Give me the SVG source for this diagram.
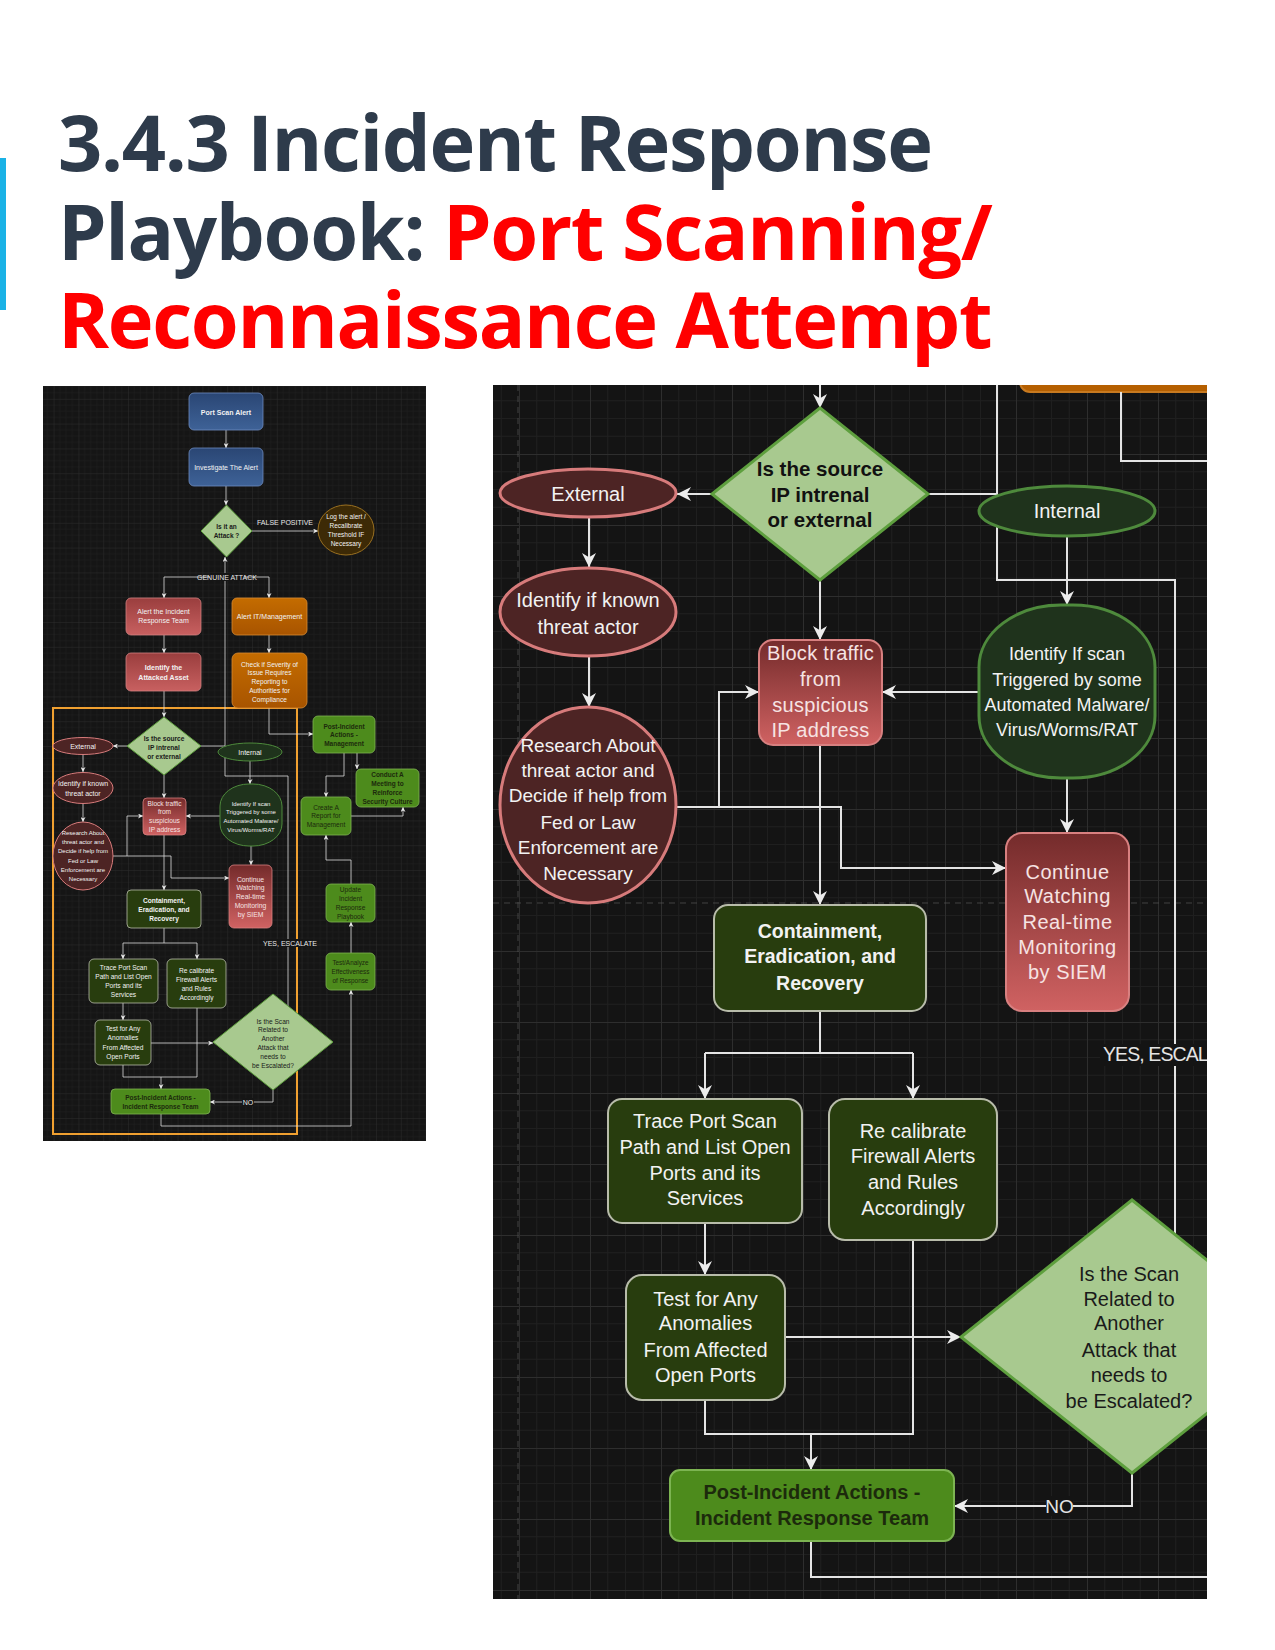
<svg xmlns="http://www.w3.org/2000/svg" width="1275" height="1650" viewBox="0 0 1275 1650">
<defs>
<style>
.ttl{font-family:"Open Sans","Noto Sans",sans-serif;font-weight:700;font-size:77.5px;letter-spacing:-1.35px}
.dk{fill:#2e3b4b}
.rd{fill:#ff0000}
.c{stroke:#e4e4e4;fill:none;stroke-width:2}
.cs{stroke:#dcdcdc;fill:none;stroke-width:0.8}
.t{font-family:"Liberation Sans",Arial,sans-serif;text-anchor:middle}
.b{font-weight:700}
.R{font-size:20px}
.S{font-size:7px}
.wt{fill:#f2f2f2}
.pk{fill:#f6e3e3}
.dkt{fill:#1c2a0c}
.dia{fill:#a8c98f;stroke:#5e9f3e}
.ext{fill:#4d2424;stroke:#d77b7b}
.int{fill:#1f331c;stroke:#4e8a3c}
.cer{fill:#283d0e;stroke:#b8bcaa}
.pst{fill:#4d8b1c;stroke:#7db452}
.red{fill:url(#gRed);stroke:#d88080}
.red2{fill:url(#gRed2);stroke:#d08080}
.blu{fill:url(#gBlue);stroke:#6d8cc0}
.org{fill:url(#gOrg);stroke:#d88a30}
.log{fill:#3d2a06;stroke:#9a7020}
.lbl{fill:#e8e8e8}
</style>
<linearGradient id="gRed" x1="0" y1="0" x2="0" y2="1"><stop offset="0" stop-color="#742b2b"/><stop offset="1" stop-color="#d06262"/></linearGradient>
<linearGradient id="gRed2" x1="0" y1="0" x2="0" y2="1"><stop offset="0" stop-color="#9a3e3e"/><stop offset="1" stop-color="#c86060"/></linearGradient>
<linearGradient id="gBlue" x1="0" y1="0" x2="0" y2="1"><stop offset="0" stop-color="#2a4674"/><stop offset="1" stop-color="#3e6297"/></linearGradient>
<linearGradient id="gOrg" x1="0" y1="0" x2="0" y2="1"><stop offset="0" stop-color="#c46c00"/><stop offset="1" stop-color="#a85400"/></linearGradient>
<pattern id="gridR" x="22" y="28" width="71" height="71" patternUnits="userSpaceOnUse">
<path d="M17.75 0V71M35.5 0V71M53.25 0V71M0 17.75H71M0 35.5H71M0 53.25H71" stroke="#1f1f1f" stroke-width="1" fill="none"/>
<path d="M0.5 0V71M0 0.5H71" stroke="#2e2e2e" stroke-width="1" fill="none"/>
</pattern>
<pattern id="gridL" x="4" y="2" width="24.8" height="24.8" patternUnits="userSpaceOnUse">
<path d="M6.2 0V24.8M12.4 0V24.8M18.6 0V24.8M0 6.2H24.8M0 12.4H24.8M0 18.6H24.8" stroke="#1e1e1e" stroke-width="0.6" fill="none"/>
<path d="M0.3 0V24.8M0 0.3H24.8" stroke="#2b2b2b" stroke-width="0.7" fill="none"/>
</pattern>
<marker id="aR" viewBox="0 0 10 10" refX="10" refY="5" markerWidth="14" markerHeight="14" markerUnits="userSpaceOnUse" orient="auto"><path d="M0,0 L10,5 L0,10 L3,5 Z" fill="#ececec"/></marker>
<marker id="aL" viewBox="0 0 10 10" refX="10" refY="5" markerWidth="5" markerHeight="5" markerUnits="userSpaceOnUse" orient="auto"><path d="M0,0 L10,5 L0,10 L3,5 Z" fill="#ececec"/></marker>
<clipPath id="clipR"><rect x="493" y="385" width="714" height="1214"/></clipPath>
<clipPath id="clipL"><rect x="43" y="386" width="383" height="755"/></clipPath>
</defs>
<rect width="1275" height="1650" fill="#ffffff"/>

<g id="title">
<rect x="0" y="158" width="6" height="152" fill="#1ab2e6"/>
<text class="ttl dk" x="58" y="171">3.4.3 Incident Response</text>
<text class="ttl" x="58" y="260"><tspan class="dk">Playbook: </tspan><tspan class="rd">Port Scanning/</tspan></text>
<text class="ttl rd" x="58" y="348">Reconnaissance Attempt</text>
</g>

<!-- ================= LEFT OVERVIEW PANEL ================= -->
<g id="left-panel" clip-path="url(#clipL)">
<rect x="43" y="386" width="383" height="755" fill="#151515"/>
<rect x="43" y="386" width="383" height="755" fill="url(#gridL)"/>
<rect x="53" y="708" width="244" height="426" fill="none" stroke="#f0a030" stroke-width="2"/>

<g id="l-connectors">
<path class="cs" d="M226 430V448" marker-end="url(#aL)"/>
<path class="cs" d="M226 486V505" marker-end="url(#aL)"/>
<path class="cs" d="M252 531H318" marker-end="url(#aL)"/>
<path class="cs" d="M164 577H269"/>
<path class="cs" d="M164 577V598" marker-end="url(#aL)"/>
<path class="cs" d="M269 577V598" marker-end="url(#aL)"/>
<path class="cs" d="M164 635V653" marker-end="url(#aL)"/>
<path class="cs" d="M269 635V653" marker-end="url(#aL)"/>
<path class="cs" d="M164 691V717" marker-end="url(#aL)"/>
<path class="cs" d="M269 708V734H313" marker-end="url(#aL)"/>
<path class="cs" d="M288 1006V776H225V557" marker-end="url(#aL)"/>
<path class="cs" d="M127 746H113" marker-end="url(#aL)"/>
<path class="cs" d="M201 746H225"/>
<path class="cs" d="M83 754V772" marker-end="url(#aL)"/>
<path class="cs" d="M83 803V822" marker-end="url(#aL)"/>
<path class="cs" d="M164 775V798" marker-end="url(#aL)"/>
<path class="cs" d="M250 761V784" marker-end="url(#aL)"/>
<path class="cs" d="M220 816H186" marker-end="url(#aL)"/>
<path class="cs" d="M113 856H127V816H143" marker-end="url(#aL)"/>
<path class="cs" d="M127 856H171V878H229" marker-end="url(#aL)"/>
<path class="cs" d="M251 846V865" marker-end="url(#aL)"/>
<path class="cs" d="M164 835V890" marker-end="url(#aL)"/>
<path class="cs" d="M344 753V776H326V797" marker-end="url(#aL)"/>
<path class="cs" d="M357 753V769" marker-end="url(#aL)"/>
<path class="cs" d="M351 816H403V807" marker-end="url(#aL)"/>
<path class="cs" d="M351 884V860H326V835" marker-end="url(#aL)"/>
<path class="cs" d="M351 953V922" marker-end="url(#aL)"/>
<path class="cs" d="M164 928V943"/>
<path class="cs" d="M123 943H197"/>
<path class="cs" d="M123 943V959" marker-end="url(#aL)"/>
<path class="cs" d="M197 943V959" marker-end="url(#aL)"/>
<path class="cs" d="M123 1003V1020" marker-end="url(#aL)"/>
<path class="cs" d="M151 1043H213" marker-end="url(#aL)"/>
<path class="cs" d="M197 1008V1077H123V1065"/>
<path class="cs" d="M161 1077V1089" marker-end="url(#aL)"/>
<path class="cs" d="M273 1090V1102H210" marker-end="url(#aL)"/>
<path class="cs" d="M161 1114V1126H351V990" marker-end="url(#aL)"/>
<rect x="210" y="573" width="34" height="8" fill="#151515"/>
<text class="t S lbl" x="227" y="579.5">GENUINE ATTACK</text>
<text class="t S lbl" x="285" y="524.5">FALSE POSITIVE</text>
<rect x="267" y="939" width="46" height="8" fill="#151515"/>
<text class="t S lbl" x="290" y="945.5">YES, ESCALATE</text>
<rect x="242" y="1098" width="12" height="8" fill="#151515"/>
<text class="t S lbl" x="248" y="1104.5">NO</text>
</g>

<g id="l-port-scan-alert"><rect class="blu" x="189" y="393" width="74" height="37" rx="5" stroke-width="0.8"/><text class="t S b wt" x="226" y="414.5">Port Scan Alert</text></g>
<g id="l-investigate"><rect class="blu" x="189" y="448" width="74" height="38" rx="5" stroke-width="0.8"/><text class="t S wt" x="226" y="469.5">Investigate The Alert</text></g>
<g id="l-is-attack"><polygon class="dia" points="226.5,505 252,531 226.5,557 201,531" stroke-width="1"/><text class="t b" font-size="6.5" fill="#1a1a1a" x="226.5" y="529"><tspan x="226.5">Is it an</tspan><tspan x="226.5" dy="9">Attack ?</tspan></text></g>
<g id="l-log"><ellipse class="log" cx="346" cy="530" rx="28" ry="25" stroke-width="1"/><text class="t wt" font-size="6.5" x="346" y="519"><tspan x="346">Log the alert /</tspan><tspan x="346" dy="9">Recalibrate</tspan><tspan x="346" dy="9">Threshold IF</tspan><tspan x="346" dy="9">Necessary</tspan></text></g>
<g id="l-alert-ir"><rect class="red2" x="126" y="598" width="75" height="37" rx="5" stroke-width="0.8"/><text class="t S wt" x="163.5" y="614"><tspan x="163.5">Alert the Incident</tspan><tspan x="163.5" dy="9">Response Team</tspan></text></g>
<g id="l-identify-asset"><rect class="red2" x="126" y="653" width="75" height="38" rx="5" stroke-width="0.8"/><text class="t S b wt" x="163.5" y="670"><tspan x="163.5">Identify the</tspan><tspan x="163.5" dy="9.5">Attacked Asset</tspan></text></g>
<g id="l-alert-it"><rect class="org" x="232" y="598" width="75" height="37" rx="5" stroke-width="0.8"/><text class="t S wt" x="269.5" y="618.5">Alert IT/Management</text></g>
<g id="l-check-severity"><rect class="org" x="232" y="653" width="75" height="55" rx="6" stroke-width="0.8"/><text class="t" font-size="6.6" fill="#f2f2f2" x="269.5" y="666.5"><tspan x="269.5">Check if Severity of</tspan><tspan x="269.5" dy="8.8">Issue Requires</tspan><tspan x="269.5" dy="8.8">Reporting to</tspan><tspan x="269.5" dy="8.8">Authorities for</tspan><tspan x="269.5" dy="8.8">Compliance</tspan></text></g>
<g id="l-source-ip"><polygon class="dia" points="164,717 201,746 164,775 127,746" stroke-width="1"/><text class="t b" font-size="6.6" fill="#1a1a1a" x="164" y="740.5"><tspan x="164">Is the source</tspan><tspan x="164" dy="9">IP intrenal</tspan><tspan x="164" dy="9">or external</tspan></text></g>
<g id="l-post-mgmt"><rect class="pst" x="313" y="716" width="62" height="37" rx="5" stroke-width="0.8"/><text class="t b dkt" font-size="6.5" x="344" y="728.5"><tspan x="344">Post-Incident</tspan><tspan x="344" dy="8.5">Actions -</tspan><tspan x="344" dy="8.5">Management</tspan></text></g>
<g id="l-external"><ellipse class="ext" cx="83" cy="746" rx="30" ry="8.5" stroke-width="1"/><text class="t S wt" x="83" y="748.5">External</text></g>
<g id="l-internal"><ellipse class="int" cx="250" cy="752" rx="32" ry="9" stroke-width="1"/><text class="t S wt" x="250" y="754.5">Internal</text></g>
<g id="l-identify-known"><ellipse class="ext" cx="83" cy="788" rx="30" ry="15.5" stroke-width="1"/><text class="t S wt" x="83" y="785.5"><tspan x="83">Identify if known</tspan><tspan x="83" dy="10">threat actor</tspan></text></g>
<g id="l-research"><ellipse class="ext" cx="83" cy="856" rx="30" ry="34" stroke-width="1"/><text class="t wt" font-size="6" x="83" y="835"><tspan x="83">Research About</tspan><tspan x="83" dy="9.2">threat actor and</tspan><tspan x="83" dy="9.2">Decide if help from</tspan><tspan x="83" dy="9.2">Fed or Law</tspan><tspan x="83" dy="9.2">Enforcement are</tspan><tspan x="83" dy="9.2">Necessary</tspan></text></g>
<g id="l-block"><rect class="red" x="143" y="798" width="43" height="37" rx="4" stroke-width="0.8"/><text class="t pk" font-size="6.6" x="164.5" y="805.5"><tspan x="164.5">Block traffic</tspan><tspan x="164.5" dy="8.7">from</tspan><tspan x="164.5" dy="8.7">suspicious</tspan><tspan x="164.5" dy="8.7">IP address</tspan></text></g>
<g id="l-identify-scan"><rect class="int" x="220" y="784" width="62" height="62" rx="29" ry="22" stroke-width="1"/><text class="t wt" font-size="6" x="251" y="805.5"><tspan x="251">Identify If scan</tspan><tspan x="251" dy="8.8">Triggered by some</tspan><tspan x="251" dy="8.8">Automated Malware/</tspan><tspan x="251" dy="8.8">Virus/Worms/RAT</tspan></text></g>
<g id="l-continue"><rect class="red" x="229" y="865" width="43" height="63" rx="5" stroke-width="0.8"/><text class="t pk" font-size="6.8" x="250.5" y="881.5"><tspan x="250.5">Continue</tspan><tspan x="250.5" dy="8.8">Watching</tspan><tspan x="250.5" dy="8.8">Real-time</tspan><tspan x="250.5" dy="8.8">Monitoring</tspan><tspan x="250.5" dy="8.8">by SIEM</tspan></text></g>
<g id="l-containment"><rect class="cer" x="127" y="890" width="74" height="38" rx="4" stroke-width="0.8"/><text class="t b wt" font-size="6.6" x="164" y="902.5"><tspan x="164">Containment,</tspan><tspan x="164" dy="9">Eradication, and</tspan><tspan x="164" dy="9">Recovery</tspan></text></g>
<g id="l-conduct"><rect class="pst" x="356" y="769" width="63" height="38" rx="5" stroke-width="0.8"/><text class="t b dkt" font-size="6.5" x="387.5" y="776.5"><tspan x="387.5">Conduct A</tspan><tspan x="387.5" dy="9">Meeting to</tspan><tspan x="387.5" dy="9">Reinforce</tspan><tspan x="387.5" dy="9">Security Culture</tspan></text></g>
<g id="l-create-report"><rect class="pst" x="301" y="797" width="50" height="38" rx="5" stroke-width="0.8"/><text class="t dkt" font-size="6.6" x="326" y="809.5"><tspan x="326">Create A</tspan><tspan x="326" dy="8.7">Report for</tspan><tspan x="326" dy="8.7">Management</tspan></text></g>
<g id="l-update"><rect class="pst" x="326" y="884" width="49" height="38" rx="5" stroke-width="0.8"/><text class="t dkt" font-size="6.6" x="350.5" y="891.5"><tspan x="350.5">Update</tspan><tspan x="350.5" dy="9.2">Incident</tspan><tspan x="350.5" dy="9.2">Response</tspan><tspan x="350.5" dy="9.2">Playbook</tspan></text></g>
<g id="l-test-analyze"><rect class="pst" x="326" y="953" width="49" height="37" rx="5" stroke-width="0.8"/><text class="t dkt" font-size="6.4" x="350.5" y="964.5"><tspan x="350.5">Test/Analyze</tspan><tspan x="350.5" dy="9.3">Effectiveness</tspan><tspan x="350.5" dy="9.3">of Response</tspan></text></g>
<g id="l-trace"><rect class="cer" x="89" y="959" width="69" height="44" rx="5" stroke-width="0.8"/><text class="t wt" font-size="6.6" x="123.5" y="969.5"><tspan x="123.5">Trace Port Scan</tspan><tspan x="123.5" dy="9">Path and List Open</tspan><tspan x="123.5" dy="9">Ports and its</tspan><tspan x="123.5" dy="9">Services</tspan></text></g>
<g id="l-recalibrate"><rect class="cer" x="167" y="959" width="59" height="49" rx="5" stroke-width="0.8"/><text class="t wt" font-size="6.6" x="196.5" y="972.5"><tspan x="196.5">Re calibrate</tspan><tspan x="196.5" dy="9">Firewall Alerts</tspan><tspan x="196.5" dy="9">and Rules</tspan><tspan x="196.5" dy="9">Accordingly</tspan></text></g>
<g id="l-test-anomalies"><rect class="cer" x="95" y="1020" width="56" height="45" rx="5" stroke-width="0.8"/><text class="t wt" font-size="6.6" x="123" y="1030.5"><tspan x="123">Test for Any</tspan><tspan x="123" dy="9.6">Anomalies</tspan><tspan x="123" dy="9.6">From Affected</tspan><tspan x="123" dy="9.6">Open Ports</tspan></text></g>
<g id="l-escalate"><polygon class="dia" points="273,994 333,1042 273,1090 213,1042" stroke-width="1"/><text class="t" font-size="6.6" fill="#1a1a1a" x="273" y="1023.5"><tspan x="273">Is the Scan</tspan><tspan x="273" dy="8.8">Related to</tspan><tspan x="273" dy="8.8">Another</tspan><tspan x="273" dy="8.8">Attack that</tspan><tspan x="273" dy="8.8">needs to</tspan><tspan x="273" dy="8.8">be Escalated?</tspan></text></g>
<g id="l-post-ir"><rect class="pst" x="111" y="1089" width="99" height="25" rx="4" stroke-width="0.8"/><text class="t b dkt" font-size="6.5" x="160.5" y="1099.5"><tspan x="160.5">Post-Incident Actions -</tspan><tspan x="160.5" dy="9">Incident Response Team</tspan></text></g>
</g>

<!-- ================= RIGHT ZOOMED PANEL ================= -->
<g id="right-panel" clip-path="url(#clipR)">
<rect x="493" y="385" width="714" height="1214" fill="#141414"/>
<rect x="493" y="385" width="714" height="1214" fill="url(#gridR)"/>
<path d="M518 385V1599M493 903H1207" stroke="#555" stroke-width="1" stroke-dasharray="6,5" fill="none" opacity="0.7"/>

<g id="r-orange-top"><rect x="1020" y="330" width="260" height="62" rx="10" fill="#b55f00" stroke="#c87a20" stroke-width="2"/></g>

<g id="r-connectors">
<path class="c" d="M1121 392V461H1210"/>
<path class="c" d="M820 385V408" marker-end="url(#aR)"/>
<path class="c" d="M712 494H677" marker-end="url(#aR)"/>
<path class="c" d="M928 494H997"/>
<path class="c" d="M997 385V580H1175V1240"/>
<path class="c" d="M589 518V567" marker-end="url(#aR)"/>
<path class="c" d="M589 656V707" marker-end="url(#aR)"/>
<path class="c" d="M820 580V640" marker-end="url(#aR)"/>
<path class="c" d="M1067 537V605" marker-end="url(#aR)"/>
<path class="c" d="M979 692H882" marker-end="url(#aR)"/>
<path class="c" d="M677 807H719V692H759" marker-end="url(#aR)"/>
<path class="c" d="M719 807H841V868H1006" marker-end="url(#aR)"/>
<path class="c" d="M1067 778V833" marker-end="url(#aR)"/>
<path class="c" d="M820 745V905" marker-end="url(#aR)"/>
<path class="c" d="M820 1011V1053"/>
<path class="c" d="M705 1053H913"/>
<path class="c" d="M705 1053V1099" marker-end="url(#aR)"/>
<path class="c" d="M913 1053V1099" marker-end="url(#aR)"/>
<path class="c" d="M705 1223V1275" marker-end="url(#aR)"/>
<path class="c" d="M785 1337H961" marker-end="url(#aR)"/>
<path class="c" d="M913 1240V1434H705V1400"/>
<path class="c" d="M811 1434V1470" marker-end="url(#aR)"/>
<path class="c" d="M1132 1473V1506H954" marker-end="url(#aR)"/>
<path class="c" d="M811 1541V1577H1210"/>
</g>

<g id="r-source-ip"><polygon class="dia" points="820,408 928,494 820,580 712,494" stroke-width="3"/><text class="t b" font-size="20.5" fill="#111" x="820" y="476"><tspan x="820">Is the source</tspan><tspan x="820" y="502">IP intrenal</tspan><tspan x="820" y="527">or external</tspan></text></g>
<g id="r-external"><ellipse class="ext" cx="588" cy="493" rx="88" ry="24" stroke-width="3"/><text class="t R wt" x="588" y="501">External</text></g>
<g id="r-internal"><ellipse class="int" cx="1067" cy="511" rx="88" ry="25" stroke-width="3"/><text class="t R wt" x="1067" y="518">Internal</text></g>
<g id="r-identify-known"><ellipse class="ext" cx="588" cy="612" rx="88" ry="44" stroke-width="3"/><text class="t R wt" x="588" y="607"><tspan x="588">Identify if known</tspan><tspan x="588" y="634">threat actor</tspan></text></g>
<g id="r-research"><ellipse class="ext" cx="588" cy="805" rx="88" ry="98" stroke-width="3"/><text class="t wt" font-size="19" x="588" y="752"><tspan x="588">Research About</tspan><tspan x="588" y="777">threat actor and</tspan><tspan x="588" y="802">Decide if help from</tspan><tspan x="588" y="829">Fed or Law</tspan><tspan x="588" y="854">Enforcement are</tspan><tspan x="588" y="880">Necessary</tspan></text></g>
<g id="r-block"><rect class="red" x="759" y="640" width="123" height="105" rx="14" stroke-width="2"/><text class="t R pk" x="820.5" y="660" letter-spacing="0.3"><tspan x="820.5">Block traffic</tspan><tspan x="820.5" y="686">from</tspan><tspan x="820.5" y="712">suspicious</tspan><tspan x="820.5" y="737">IP address</tspan></text></g>
<g id="r-identify-scan"><rect class="int" x="979" y="605" width="176" height="173" rx="82" ry="62" stroke-width="3"/><text class="t wt" font-size="18" x="1067" y="660"><tspan x="1067">Identify If scan</tspan><tspan x="1067" y="686">Triggered by some</tspan><tspan x="1067" y="711">Automated Malware/</tspan><tspan x="1067" y="736">Virus/Worms/RAT</tspan></text></g>
<g id="r-continue"><rect class="red" x="1006" y="833" width="123" height="178" rx="16" stroke-width="2"/><text class="t R pk" x="1067.5" y="879" letter-spacing="0.5"><tspan x="1067.5">Continue</tspan><tspan x="1067.5" y="903">Watching</tspan><tspan x="1067.5" y="929">Real-time</tspan><tspan x="1067.5" y="954">Monitoring</tspan><tspan x="1067.5" y="979">by SIEM</tspan></text></g>
<g id="r-containment"><rect class="cer" x="714" y="905" width="212" height="106" rx="14" stroke-width="2"/><text class="t b wt" font-size="19.5" x="820" y="938"><tspan x="820">Containment,</tspan><tspan x="820" y="963">Eradication, and</tspan><tspan x="820" y="990">Recovery</tspan></text></g>
<g id="r-trace"><rect class="cer" x="608" y="1099" width="194" height="124" rx="14" stroke-width="2"/><text class="t R wt" x="705" y="1128"><tspan x="705">Trace Port Scan</tspan><tspan x="705" y="1154">Path and List Open</tspan><tspan x="705" y="1180">Ports and its</tspan><tspan x="705" y="1205">Services</tspan></text></g>
<g id="r-recalibrate"><rect class="cer" x="829" y="1099" width="168" height="141" rx="16" stroke-width="2"/><text class="t R wt" x="913" y="1138"><tspan x="913">Re calibrate</tspan><tspan x="913" y="1163">Firewall Alerts</tspan><tspan x="913" y="1189">and Rules</tspan><tspan x="913" y="1215">Accordingly</tspan></text></g>
<g id="r-test-anomalies"><rect class="cer" x="626" y="1275" width="159" height="125" rx="16" stroke-width="2"/><text class="t R wt" x="705.5" y="1306"><tspan x="705.5">Test for Any</tspan><tspan x="705.5" y="1330">Anomalies</tspan><tspan x="705.5" y="1357">From Affected</tspan><tspan x="705.5" y="1382">Open Ports</tspan></text></g>
<g id="r-escalate"><polygon class="dia" points="1132,1200 1303,1337 1132,1473 961,1337" stroke-width="3"/><text class="t R" fill="#1a1a1a" x="1129" y="1281"><tspan x="1129">Is the Scan</tspan><tspan x="1129" y="1306">Related to</tspan><tspan x="1129" y="1330">Another</tspan><tspan x="1129" y="1357">Attack that</tspan><tspan x="1129" y="1382">needs to</tspan><tspan x="1129" y="1408">be Escalated?</tspan></text></g>
<g id="r-post-ir"><rect class="pst" x="670" y="1470" width="284" height="71" rx="10" stroke-width="2"/><text class="t b dkt" font-size="20" x="812" y="1499"><tspan x="812">Post-Incident Actions -</tspan><tspan x="812" y="1525">Incident Response Team</tspan></text></g>

<g id="r-labels">
<rect x="1100" y="1044" width="110" height="22" fill="#141414"/>
<text font-family="Liberation Sans, Arial, sans-serif" font-size="19.5" letter-spacing="-0.9" fill="#e4e4e4" x="1103" y="1061">YES, ESCAL</text>
<rect x="1046" y="1496" width="27" height="20" fill="#141414"/>
<text class="t" font-size="19" fill="#e4e4e4" x="1059.5" y="1513">NO</text>
</g>
</g>
</svg>
